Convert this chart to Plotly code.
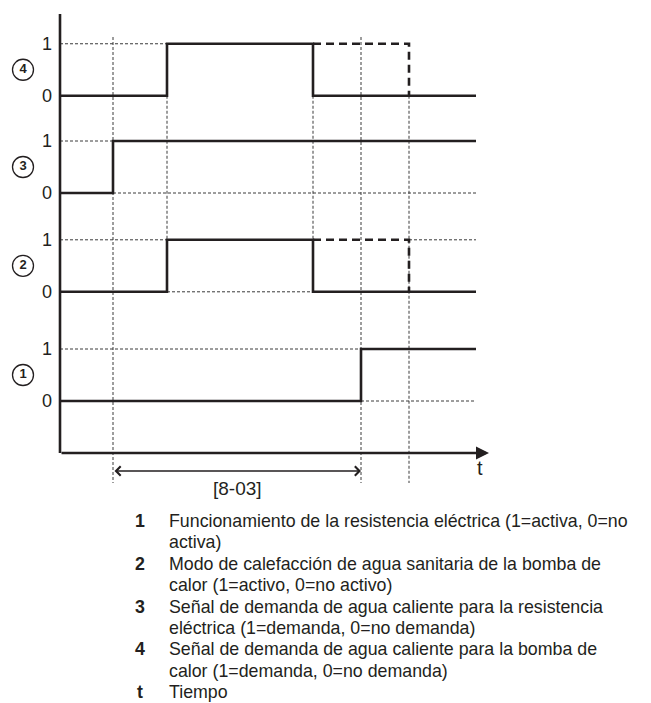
import plotly.graph_objects as go

# instantes de conmutación (unidades arbitrarias de tiempo)
tiempos = [0, 53, 107, 253, 301, 349, 416]
senal_1 = [0, 0, 0, 0, 1, 1, 1]   # resistencia eléctrica
senal_2 = [0, 0, 1, 0, 0, 0, 0]   # modo ACS bomba de calor
senal_3 = [0, 1, 1, 1, 1, 1, 1]   # demanda para resistencia
senal_4 = [0, 0, 1, 0, 0, 0, 0]   # demanda para bomba de calor
# continuación alternativa (discontinua) de las señales 2 y 4
tiempos_alt = [253, 349]
senal_alt = [1, 0]

niveles = ['0', '1']
circulos = ['1', '2', '3', '4']
intervalo_803 = [53, 301]
texto_803 = '[8-03]'

leyenda_num = ['1', '2', '3', '4', 't']
leyenda_txt = [
    ['Funcionamiento de la resistencia eléctrica (1=activa, 0=no', 'activa)'],
    ['Modo de calefacción de agua sanitaria de la bomba de', 'calor (1=activo, 0=no activo)'],
    ['Señal de demanda de agua caliente para la resistencia', 'eléctrica (1=demanda, 0=no demanda)'],
    ['Señal de demanda de agua caliente para la bomba de', 'calor (1=demanda, 0=no demanda)'],
    ['Tiempo'],
]

# ---- disposición ----
W, H = 651, 703
X0, Y0 = 60, 453          # origen de los ejes en píxeles (ventana)
PX = 52                   # píxeles por unidad vertical
OFF = 8                   # margen del <body> en la página
base = [1.0, 3.1, 5.0, 6.87]   # desplazamiento de cada señal
NEGRO = '#231f20'
FUENTE = 'Liberation Sans, Arial, sans-serif'


def yp(py):
    return (Y0 - py) / PX


senales = [senal_1, senal_2, senal_3, senal_4]
fig = go.Figure()

guia = dict(color='#3a3a3a', width=1, dash='3px,2px')


def linea(x, y, estilo):
    fig.add_trace(go.Scatter(x=x, y=y, mode='lines', line=estilo,
                             hoverinfo='skip', cliponaxis=False))


# guías punteadas horizontales
for i, s in enumerate(senales):
    k = s.index(1)
    linea([tiempos[0], tiempos[k]], [base[i] + 1] * 2, guia)
linea([tiempos[4], tiempos[-1]], [base[0]] * 2, guia)
linea([tiempos[2], tiempos[3]], [base[1]] * 2, guia)
linea([tiempos[5], tiempos[-1]], [base[1] + 1] * 2, guia)
linea([tiempos[1], tiempos[-1]], [base[2]] * 2, guia)

# guías punteadas verticales
abajo = yp(483)
arriba = yp(37)
linea([tiempos[1]] * 2, [arriba, abajo], guia)
linea([tiempos[4]] * 2, [arriba, abajo], guia)
linea([tiempos[5]] * 2, [base[3], abajo], guia)
linea([tiempos[2]] * 2, [base[3], base[1] + 1], guia)
linea([tiempos[3]] * 2, [base[3], base[1] + 1], guia)

# señales
for i, s in enumerate(senales):
    fig.add_trace(go.Scatter(x=tiempos, y=[v + base[i] for v in s], mode='lines',
                             line=dict(color=NEGRO, width=2.6, shape='hv'),
                             hoverinfo='skip', cliponaxis=False))
for i in (1, 3):
    fig.add_trace(go.Scatter(x=tiempos_alt, y=[v + base[i] for v in senal_alt], mode='lines',
                             line=dict(color=NEGRO, width=2.6, shape='hv', dash='8px,5px'),
                             hoverinfo='skip', cliponaxis=False))

# eje vertical
linea([0, 0], [0, yp(14)], dict(color=NEGRO, width=2.6))

# números en círculo a la izquierda de cada señal
fig.add_trace(go.Scatter(
    x=[23 - X0] * 4, y=[b + 0.5 for b in base], mode='markers+text',
    text=['<b>%s</b>' % c for c in circulos], textposition='middle center',
    textfont=dict(family=FUENTE, size=13, color=NEGRO),
    marker=dict(symbol='circle-open', size=21, color=NEGRO, line=dict(width=1.3)),
    hoverinfo='skip', cliponaxis=False))

anot = []
# eje horizontal con flecha
anot.append(dict(x=429, y=0, ax=0, ay=0, xref='x', yref='y', axref='x', ayref='y',
                 showarrow=True, arrowhead=2, arrowsize=1, arrowwidth=2.6,
                 arrowcolor=NEGRO, text=''))
anot.append(dict(x=420, y=yp(468), text='t', showarrow=False,
                 font=dict(family=FUENTE, size=20, color=NEGRO)))

# cota [8-03]
anot.append(dict(x=intervalo_803[1], y=yp(471), ax=intervalo_803[0], ay=yp(471),
                 xref='x', yref='y', axref='x', ayref='y', text='',
                 showarrow=True, arrowside='end+start', arrowhead=4, startarrowhead=4,
                 arrowsize=1.4, startarrowsize=1.4, arrowwidth=1.3, arrowcolor=NEGRO))
anot.append(dict(x=sum(intervalo_803) / 2, y=yp(488), text=texto_803, showarrow=False,
                 font=dict(family=FUENTE, size=19, color=NEGRO)))

# etiquetas 0/1
for i in range(4):
    for n, txt in enumerate(niveles):
        anot.append(dict(x=47 - X0, y=base[i] + n, text=txt, showarrow=False,
                         font=dict(family=FUENTE, size=18, color=NEGRO)))

# leyenda
fila = 0
for num, lineas in zip(leyenda_num, leyenda_txt):
    for j, txt in enumerate(lineas):
        py = 521 + fila * 21.4
        if j == 0:
            anot.append(dict(x=140 - X0, y=yp(py), text='<b>%s</b>' % num, showarrow=False,
                             font=dict(family=FUENTE, size=17.8, color=NEGRO)))
        anot.append(dict(x=167 - X0, y=yp(py), text=txt, showarrow=False, xanchor='left',
                         font=dict(family=FUENTE, size=17.8, color=NEGRO)))
        fila += 1

fig.update_layout(
    width=W, height=H,
    margin=dict(l=0, r=0, t=0, b=0),
    paper_bgcolor='white', plot_bgcolor='white',
    showlegend=False,
    xaxis=dict(range=[OFF - X0, W + OFF - X0], visible=False, fixedrange=True),
    yaxis=dict(range=[yp(H + OFF), yp(OFF)], visible=False, fixedrange=True),
    annotations=anot,
)

fig.write_html('out.html')
